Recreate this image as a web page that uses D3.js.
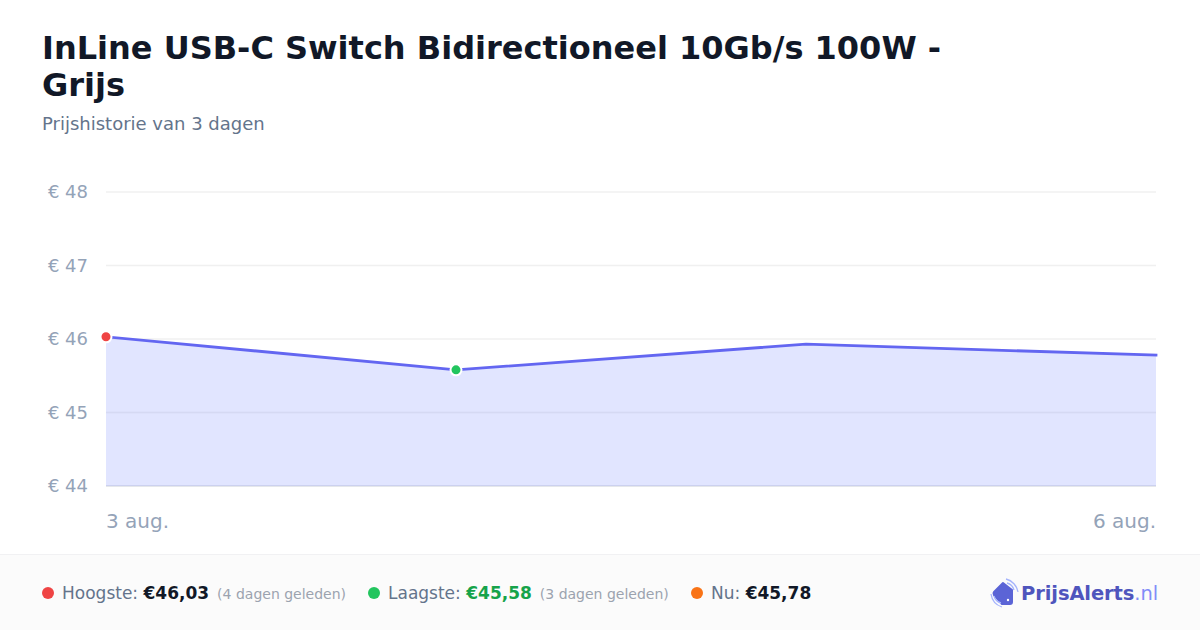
<!DOCTYPE html>
<html><head><meta charset="utf-8">
<script src="https://cdn.jsdelivr.net/npm/d3@7/dist/d3.min.js"></script>
<style>html,body{margin:0;padding:0;background:#fff}svg{display:block}text{font-family:"DejaVu Sans",sans-serif}</style>
</head><body><svg id="c" width="1200" height="630"></svg>
<script>
const dates = ["3 aug.", "4 aug.", "5 aug.", "6 aug."];
const prices = [46.03, 45.58, 45.93, 45.78];
const yTicks = [44, 45, 46, 47, 48];
const xLabels = ["3 aug.", "6 aug."];
const titleLines = ["InLine USB-C Switch Bidirectioneel 10Gb/s 100W -", "Grijs"];
const subtitle = "Prijshistorie van 3 dagen";
const highIndex = 0, lowIndex = 1;

const svg = d3.select("#c");
const x = d3.scalePoint().domain(dates).range([106, 1156]);
const y = d3.scaleLinear().domain([44, 48]).range([486, 192]);
const pts = dates.map((d, i) => ({d, v: prices[i]}));

svg.selectAll("text.title").data(titleLines).join("text").attr("class","title")
  .attr("x",42).attr("y",(d,i)=>59+i*37).attr("font-size",32).attr("font-weight",700).attr("fill","#111827").text(d=>d);
svg.append("text").attr("x",42).attr("y",130).attr("font-size",18).attr("fill","#64748b").text(subtitle);

// grid
svg.selectAll("line.g").data(yTicks).join("line").attr("class","g")
  .attr("x1",106).attr("x2",1156).attr("y1",d=>y(d)).attr("y2",d=>y(d))
  .attr("stroke",d=>d===44?"#e5e7eb":"#f0f0f0").attr("stroke-width",d=>d===44?2:1.5);
svg.selectAll("text.yl").data(yTicks).join("text").attr("class","yl")
  .attr("x",88).attr("y",d=>y(d)+6).attr("text-anchor","end").attr("font-size",18).attr("fill","#94a3b8").text(d=>"€ "+d);

const area = d3.area().x(d=>x(d.d)).y0(y(44)).y1(d=>y(d.v));
svg.append("path").datum(pts).attr("d",area).attr("fill","#6b7fff").attr("fill-opacity",0.2);
const line = d3.line().x(d=>x(d.d)).y(d=>y(d.v));
svg.append("path").datum(pts).attr("d",line).attr("fill","none").attr("stroke","#6366f1").attr("stroke-width",2.8).attr("stroke-linecap","square");

svg.append("circle").attr("cx",x(dates[highIndex])).attr("cy",y(prices[highIndex])).attr("r",5.5).attr("fill","#ef4444").attr("stroke","#fff").attr("stroke-width",2);
svg.append("circle").attr("cx",x(dates[lowIndex])).attr("cy",y(prices[lowIndex])).attr("r",5.5).attr("fill","#22c55e").attr("stroke","#fff").attr("stroke-width",2);

svg.selectAll("text.xl").data(xLabels).join("text").attr("class","xl")
  .attr("x",d=>x(d)).attr("y",528).attr("text-anchor",(d,i)=>i?"end":"start").attr("font-size",20).attr("fill","#94a3b8").text(d=>d);

// footer
svg.append("rect").attr("x",0).attr("y",554).attr("width",1200).attr("height",76).attr("fill","#fbfbfb");
svg.append("line").attr("x1",0).attr("x2",1200).attr("y1",554.5).attr("y2",554.5).attr("stroke","#f1f1f3");

function stat(cx, color, label, value, valueColor, note){
  svg.append("circle").attr("cx",cx).attr("cy",593).attr("r",6).attr("fill",color);
  const t = svg.append("text").attr("x",cx+14).attr("y",599).attr("font-size",17).attr("fill","#64748b");
  t.append("tspan").text(label+" ");
  t.append("tspan").attr("font-size",17).attr("font-weight",700).attr("fill",valueColor).text(value);
  if(note) t.append("tspan").attr("dx",8).attr("font-size",14).attr("fill","#9ca3af").text(note);
}
stat(48,"#ef4444","Hoogste:","€46,03","#111827","(4 dagen geleden)");
stat(374,"#22c55e","Laagste:","€45,58","#16a34a","(3 dagen geleden)");
stat(697,"#f97316","Nu:","€45,78","#111827",null);

// logo
const logo = svg.append("g");
logo.append("path").attr("d","M1003 583 L1012 590 L1012 602 Q1012 604 1010 604 L1002 604 L994 595 Q993 593 994 592 Z")
  .attr("fill","#5b64d6").attr("stroke","#5b64d6").attr("stroke-width",2).attr("stroke-linejoin","round");
logo.append("circle").attr("cx",1008).attr("cy",600).attr("r",1.2).attr("fill","#fff");
logo.append("path").attr("d","M1006 579 A16 16 0 0 1 1018 592 M1007 583 A10 10 0 0 1 1014 590").attr("fill","none").attr("stroke","#a5b4fc").attr("stroke-width",1.3);
logo.append("path").attr("d","M991 594 A16 16 0 0 0 1002 607 M994 596 A10 10 0 0 0 1001 603").attr("fill","none").attr("stroke","#a5b4fc").attr("stroke-width",1.3);
const lt = svg.append("text").attr("x",1021).attr("y",600).attr("font-size",19.5).attr("letter-spacing",-0.1).attr("font-family","Inter, 'DejaVu Sans'").attr("fill","#4f55bd");
lt.append("tspan").attr("font-weight",800).text("PrijsAlerts");
lt.append("tspan").attr("font-weight",400).attr("fill","#818cf8").text(".nl");
</script></body></html>
